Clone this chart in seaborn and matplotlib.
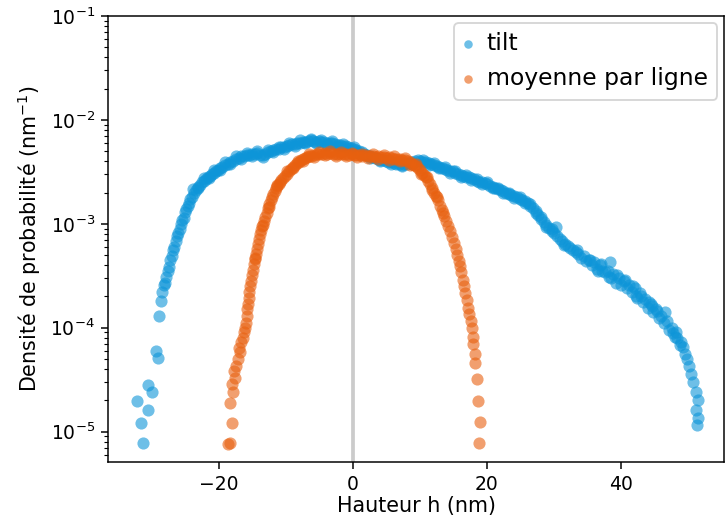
import numpy as np
import pandas as pd
import matplotlib.pyplot as plt
import seaborn as sns

# densité de probabilité : série "tilt"
tilt_x = [
    -31.3, -31.6, -30.6, -32.2, -30.0, -30.7, -29.1, -29.4, -29.0, -28.7,
    -28.5, -28.3, -28.1, -27.9, -27.7, -27.5, -27.3, -27.1, -26.9, -26.7,
    -26.5, -26.3, -26.1, -25.9, -25.7, -25.5, -25.3, -25.1, -24.9, -24.7,
    -24.5, -24.3, -24.1, -23.8, -23.5, -23.2, -22.9, -22.6, -22.3, -22.0,
    -21.7, -21.4, -21.1, -20.8, -20.5, -20.2, -19.9, -19.5, -19.1, -18.7,
    -18.3, -17.9, -17.5, -17.1, -16.7, -16.3, -15.9, -15.5, -15.1, -14.7,
    -14.3, -13.9, -13.5, -13.1, -12.7, -12.3, -11.9, -11.5, -11.1, -10.7,
    -10.3, -9.9, -9.5, -9.1, -8.7, -8.3, -7.9, -7.5, -7.1, -6.7,
    -6.3, -5.9, -5.5, -5.1, -4.7, -4.3, -3.9, -3.5, -3.1, -2.7,
    -2.3, -1.9, -1.5, -1.1, -0.7, -0.3, 0.1, 0.5, 0.9, 1.3,
    1.7, 2.1, 2.5, 2.9, 3.3, 3.7, 4.1, 4.5, 4.9, 5.3,
    5.7, 6.1, 6.5, 6.9, 7.3, 7.7, 8.1, 8.5, 8.9, 9.3,
    9.7, 10.1, 10.5, 10.9, 11.3, 11.7, 12.1, 12.5, 12.9, 13.3,
    13.7, 14.1, 14.5, 14.9, 15.3, 15.7, 16.1, 16.5, 16.9, 17.3,
    17.7, 18.1, 18.5, 18.9, 19.3, 19.7, 20.1, 20.5, 20.9, 21.3,
    21.7, 22.1, 22.5, 22.9, 23.3, 23.7, 24.1, 24.5, 24.9, 25.3,
    25.7, 26.1, 26.5, 26.9, 27.3, 27.7, 28.1, 28.5, 28.9, 29.3,
    29.7, 30.1, 30.5, 30.9, 31.3, 31.7, 32.1, 32.5, 32.9, 33.3,
    33.7, 34.1, 34.5, 34.9, 35.3, 35.7, 36.1, 36.5, 36.9, 37.3,
    37.7, 38.1, 38.5, 38.9, 39.3, 39.7, 40.1, 40.5, 40.9, 41.3,
    41.7, 42.1, 42.5, 42.9, 43.3, 43.7, 44.1, 44.5, 44.9, 45.3,
    45.7, 46.1, 46.5, 46.9, 47.3, 47.7, 48.1, 48.5, 48.9, 49.3,
    49.7, 50.0, 50.3, 50.6, 50.9, 51.2, 51.5, 51.3, 51.6, 51.4,
    30.3, 31.5, 33.5, 35.5, 37.1, 38.3, 39.5, 40.7, 41.9, 43.1,
    44.3, 45.5, 46.7, 47.9, 49.1, 36.7, 38.4, 42.3, 44.7, 48.3,
    -23.9, -23.1, -22.3, -21.5, -20.7, -19.9, -19.1, -18.3, -17.5, -16.7,
    -15.9, -15.1, -14.3, -13.5, -12.7, -11.9, -11.1, -10.3, -9.5, -8.7,
    -7.9, -7.1, -6.3, -5.5, -4.7, -3.9, -3.1, -2.3, -1.5, -0.7,
    0.1, 0.9, 2.5, 4.1, 5.7, 7.3, 8.9, 10.5, 11.3, 12.1,
    12.9, 13.7, 14.5, 15.3, 16.1, 16.9, 17.7, 18.5, 19.3, 20.1,
    20.9, 21.7, 22.5, 23.3, 24.1, 24.9, 25.7, 26.5, 27.3, 28.1,
    28.9, 29.7,
]
tilt_y = [
    7.8e-6, 1.2e-5, 1.6e-5, 1.95e-5, 2.4e-5, 2.8e-5, 5.1e-5, 6.0e-5, 1.3e-4, 1.8e-4,
    2.2e-4, 2.6e-4, 2.7e-4, 3.1e-4, 3.5e-4, 3.8e-4, 4.5e-4, 4.9e-4, 5.6e-4, 6.0e-4,
    6.9e-4, 7.6e-4, 8.2e-4, 9.0e-4, 1.0e-3, 1.1e-3, 1.15e-3, 1.3e-3, 1.38e-3, 1.5e-3,
    1.58e-3, 1.72e-3, 1.8e-3, 2.0e-3, 2.1e-3, 2.25e-3, 2.35e-3, 2.5e-3, 2.6e-3, 2.7e-3,
    2.85e-3, 2.9e-3, 3.05e-3, 3.1e-3, 3.25e-3, 3.3e-3, 3.45e-3, 3.55e-3, 3.7e-3, 3.8e-3,
    3.95e-3, 4.05e-3, 4.2e-3, 4.3e-3, 4.45e-3, 4.5e-3, 4.6e-3, 4.55e-3, 4.7e-3, 4.75e-3,
    4.8e-3, 4.6e-3, 4.55e-3, 4.7e-3, 4.9e-3, 5.0e-3, 5.1e-3, 5.25e-3, 5.3e-3, 5.45e-3,
    5.5e-3, 5.65e-3, 5.7e-3, 5.85e-3, 5.9e-3, 6.0e-3, 6.05e-3, 6.15e-3, 6.2e-3, 6.25e-3,
    6.35e-3, 6.3e-3, 6.2e-3, 6.3e-3, 6.15e-3, 6.1e-3, 6.05e-3, 5.95e-3, 5.95e-3, 5.85e-3,
    5.8e-3, 5.75e-3, 5.65e-3, 5.6e-3, 5.5e-3, 5.4e-3, 5.3e-3, 5.15e-3, 5.0e-3, 4.9e-3,
    4.75e-3, 4.6e-3, 4.5e-3, 4.4e-3, 4.3e-3, 4.25e-3, 4.15e-3, 4.1e-3, 4.0e-3, 3.95e-3,
    3.9e-3, 3.85e-3, 3.75e-3, 3.8e-3, 3.7e-3, 3.75e-3, 3.8e-3, 3.85e-3, 3.95e-3, 4.05e-3,
    4.1e-3, 4.05e-3, 3.95e-3, 3.9e-3, 3.85e-3, 3.75e-3, 3.7e-3, 3.6e-3, 3.55e-3, 3.45e-3,
    3.4e-3, 3.3e-3, 3.25e-3, 3.2e-3, 3.1e-3, 3.05e-3, 2.95e-3, 2.9e-3, 2.85e-3, 2.8e-3,
    2.75e-3, 2.7e-3, 2.6e-3, 2.55e-3, 2.5e-3, 2.45e-3, 2.4e-3, 2.3e-3, 2.25e-3, 2.2e-3,
    2.15e-3, 2.1e-3, 2.05e-3, 2.0e-3, 1.95e-3, 1.9e-3, 1.85e-3, 1.8e-3, 1.75e-3, 1.7e-3,
    1.65e-3, 1.58e-3, 1.5e-3, 1.42e-3, 1.32e-3, 1.22e-3, 1.12e-3, 1.05e-3, 9.8e-4, 9.2e-4,
    8.6e-4, 8.2e-4, 7.6e-4, 7.2e-4, 6.8e-4, 6.4e-4, 6.1e-4, 5.9e-4, 5.6e-4, 5.3e-4,
    5.1e-4, 4.7e-4, 4.9e-4, 4.4e-4, 4.5e-4, 4.0e-4, 4.3e-4, 3.7e-4, 4.0e-4, 3.5e-4,
    3.4e-4, 3.5e-4, 3.0e-4, 3.3e-4, 2.7e-4, 3.0e-4, 2.55e-4, 2.8e-4, 2.4e-4, 2.55e-4,
    2.2e-4, 2.4e-4, 1.95e-4, 2.15e-4, 1.75e-4, 1.9e-4, 1.55e-4, 1.7e-4, 1.4e-4, 1.5e-4,
    1.25e-4, 1.3e-4, 1.1e-4, 1.15e-4, 9.5e-5, 1.0e-4, 8.2e-5, 8.0e-5, 6.8e-5, 6.5e-5,
    5.6e-5, 5.0e-5, 4.3e-5, 3.6e-5, 3.0e-5, 2.4e-5, 2.0e-5, 1.6e-5, 1.35e-5, 1.15e-5,
    9.3e-4, 6.2e-4, 5.6e-4, 4.5e-4, 4.1e-4, 3.1e-4, 3.2e-4, 2.9e-4, 2.5e-4, 2.0e-4,
    1.75e-4, 1.45e-4, 1.4e-4, 8.8e-5, 7.2e-5, 3.5e-4, 4.3e-4, 2.0e-4, 1.6e-4, 9.0e-5,
    2.15e-3, 2.2e-3, 2.75e-3, 2.75e-3, 3.3e-3, 3.3e-3, 3.9e-3, 3.75e-3, 4.45e-3, 4.25e-3,
    4.8e-3, 4.5e-3, 5.0e-3, 4.35e-3, 5.15e-3, 4.9e-3, 5.55e-3, 5.25e-3, 6.0e-3, 5.65e-3,
    6.35e-3, 5.95e-3, 6.6e-3, 6.0e-3, 6.45e-3, 5.8e-3, 6.25e-3, 5.55e-3, 5.9e-3, 5.3e-3,
    5.55e-3, 4.8e-3, 4.3e-3, 4.0e-3, 3.75e-3, 3.6e-3, 3.8e-3, 4.15e-3, 3.7e-3, 3.85e-3,
    3.45e-3, 3.5e-3, 3.1e-3, 3.25e-3, 2.85e-3, 2.95e-3, 2.65e-3, 2.7e-3, 2.4e-3, 2.5e-3,
    2.2e-3, 2.2e-3, 1.98e-3, 2.0e-3, 1.78e-3, 1.82e-3, 1.58e-3, 1.56e-3, 1.27e-3, 1.16e-3,
    9.4e-4, 8.9e-4,
]

# série "moyenne par ligne"
ligne_x = [
    -18.7, -18.4, -18.1, -18.4, -17.9, -18.0, -17.6, -17.7, -17.5, -17.2,
    -16.9, -17.1, -16.7, -16.5, -16.3, -16.2, -16.0, -15.9, -15.8, -15.7,
    -15.6, -15.5, -15.4, -15.3, -15.1, -15.0, -14.8, -14.7, -14.5, -14.4,
    -14.2, -14.1, -13.9, -13.7, -13.5, -13.3, -13.1, -12.9, -12.7, -12.5,
    -12.3, -12.1, -11.9, -11.7, -11.5, -11.3, -11.1, -10.9, -10.7, -10.5,
    -10.2, -9.9, -9.6, -9.3, -9.0, -8.7, -8.4, -8.1, -7.8, -7.5,
    -7.2, -6.9, -6.6, -6.2, -5.8, -5.4, -5.0, -4.6, -4.2, -3.8,
    -3.4, -3.0, -2.6, -2.2, -1.8, -1.4, -1.0, -0.6, -0.2, 0.2,
    0.6, 1.0, 1.4, 1.8, 2.2, 2.6, 3.0, 3.4, 3.8, 4.2,
    4.6, 5.0, 5.4, 5.8, 6.2, 6.6, 7.0, 7.4, 7.8, 8.2,
    8.5, 8.8, 9.1, 9.4, 9.7, 10.0, 10.3, 10.6, 10.9, 11.2,
    11.5, 11.8, 12.1, 12.4, 12.7, 13.0, 13.3, 13.6, 13.9, 14.2,
    14.5, 14.8, 15.1, 15.4, 15.6, 15.8, 16.0, 16.2, 16.4, 16.6,
    16.8, 17.0, 17.2, 17.3, 17.6, 17.8, 17.9, 18.0, 18.2, 18.3,
    18.5, 18.7, 19.0, 18.8,
    -9.8, -9.0, -8.2, -7.4, -6.6, -5.8, -5.0, -4.2, -3.4, -2.6,
    -1.8, -1.0, -0.2, 0.6, 1.4, 2.2, 3.0, 3.8, 4.6, 5.4,
    6.2, 7.0, 7.8, 8.6, 9.4, 10.2, 11.0, 11.8, 12.6, 13.4,
    -11.4, -12.6, -13.6, -14.6,
]
ligne_y = [
    7.6e-6, 7.8e-6, 1.2e-5, 1.9e-5, 2.4e-5, 2.9e-5, 3.3e-5, 3.8e-5, 4.3e-5, 5.0e-5,
    5.8e-5, 6.4e-5, 7.2e-5, 8.0e-5, 9.0e-5, 1.0e-4, 1.12e-4, 1.3e-4, 1.5e-4, 1.7e-4,
    1.95e-4, 2.2e-4, 2.5e-4, 2.8e-4, 3.2e-4, 3.6e-4, 4.1e-4, 4.6e-4, 5.1e-4, 5.7e-4,
    6.4e-4, 7.2e-4, 7.9e-4, 8.8e-4, 9.7e-4, 1.06e-3, 1.17e-3, 1.28e-3, 1.42e-3, 1.55e-3,
    1.68e-3, 1.8e-3, 1.95e-3, 2.08e-3, 2.2e-3, 2.3e-3, 2.42e-3, 2.55e-3, 2.65e-3, 2.75e-3,
    2.9e-3, 3.05e-3, 3.2e-3, 3.4e-3, 3.55e-3, 3.7e-3, 3.85e-3, 3.95e-3, 4.1e-3, 4.2e-3,
    4.3e-3, 4.35e-3, 4.45e-3, 4.5e-3, 4.6e-3, 4.65e-3, 4.7e-3, 4.75e-3, 4.8e-3, 4.75e-3,
    4.8e-3, 4.75e-3, 4.7e-3, 4.75e-3, 4.7e-3, 4.65e-3, 4.7e-3, 4.6e-3, 4.65e-3, 4.6e-3,
    4.55e-3, 4.6e-3, 4.5e-3, 4.55e-3, 4.5e-3, 4.45e-3, 4.5e-3, 4.4e-3, 4.45e-3, 4.35e-3,
    4.4e-3, 4.3e-3, 4.35e-3, 4.3e-3, 4.25e-3, 4.2e-3, 4.2e-3, 4.15e-3, 4.1e-3, 4.0e-3,
    3.9e-3, 3.8e-3, 3.7e-3, 3.6e-3, 3.45e-3, 3.3e-3, 3.1e-3, 2.95e-3, 2.8e-3, 2.6e-3,
    2.4e-3, 2.2e-3, 2.0e-3, 1.85e-3, 1.68e-3, 1.5e-3, 1.35e-3, 1.2e-3, 1.07e-3, 9.5e-4,
    8.5e-4, 7.4e-4, 6.5e-4, 5.7e-4, 5.0e-4, 4.4e-4, 3.9e-4, 3.4e-4, 2.9e-4, 2.5e-4,
    2.15e-4, 1.85e-4, 1.55e-4, 1.35e-4, 1.15e-4, 1.0e-4, 8.2e-5, 7.0e-5, 5.6e-5, 4.6e-5,
    3.2e-5, 1.95e-5, 1.23e-5, 7.8e-6,
    3.2e-3, 3.45e-3, 4.05e-3, 4.05e-3, 4.65e-3, 4.4e-3, 4.9e-3, 4.6e-3, 5.0e-3, 4.5e-3,
    4.9e-3, 4.5e-3, 4.85e-3, 4.35e-3, 4.7e-3, 4.3e-3, 4.65e-3, 4.25e-3, 4.55e-3, 4.15e-3,
    4.45e-3, 4.05e-3, 4.3e-3, 3.7e-3, 3.75e-3, 3.05e-3, 2.8e-3, 2.1e-3, 1.8e-3, 1.26e-3,
    2.35e-3, 1.45e-3, 9.5e-4, 4.7e-4,
]

couleur_tilt = "#0d95d8"
couleur_ligne = "#e8600f"

# figure (dpi 135 -> 725x519 px)
fig, ax = plt.subplots(figsize=(725 / 135, 519 / 135), dpi=135)
fig.subplots_adjust(left=0.149, right=0.999, bottom=0.110, top=0.969)

ax.axvline(0, color="0.55", alpha=0.45, lw=2, zorder=0)
sns.scatterplot(x=tilt_x, y=tilt_y, color=couleur_tilt, alpha=0.6, s=42,
                linewidth=0, label="tilt", ax=ax)
sns.scatterplot(x=ligne_x, y=ligne_y, color=couleur_ligne, alpha=0.6, s=42,
                linewidth=0, label="moyenne par ligne", ax=ax)

ax.set_yscale("log")
ax.set_ylim(5.1e-6, 1e-1)
ax.set_xlim(-36.6, 55.5)
ax.set_xticks([-20, 0, 20, 40])
ax.set_xlabel("Hauteur h (nm)", fontsize=11, labelpad=1)
ax.set_ylabel("Densité de probabilité (nm$^{-1}$)", fontsize=11)
ax.legend(loc="upper right", fontsize=12.5, markerscale=0.7,
          handlelength=0.4, handletextpad=0.6, borderaxespad=0.3)

fig.savefig("out.png", dpi=135)
